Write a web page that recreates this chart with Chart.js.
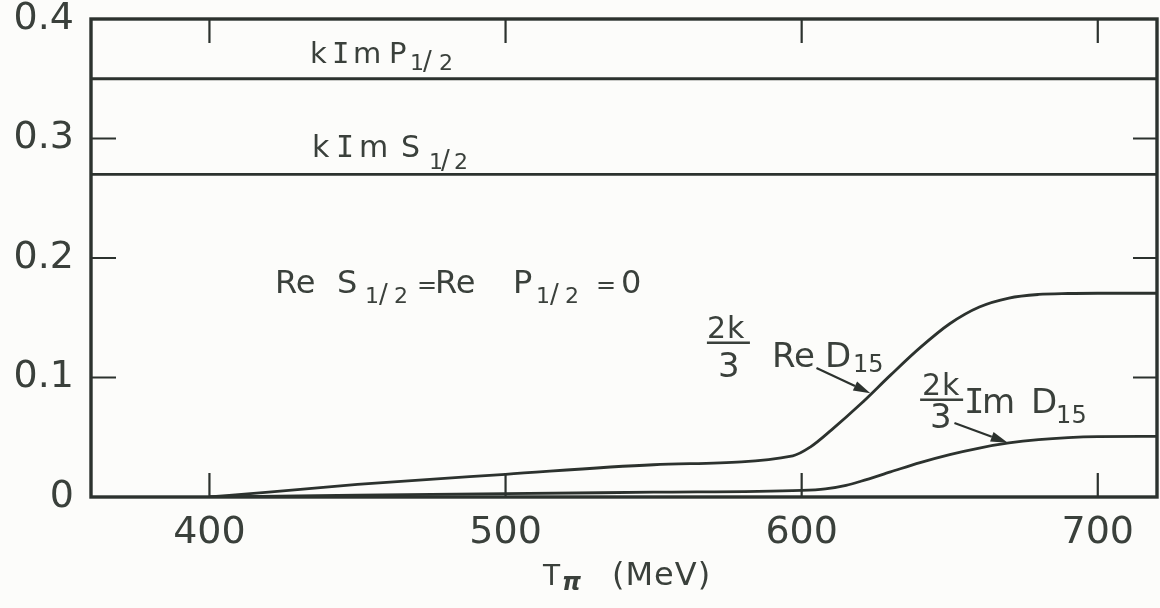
<!DOCTYPE html>
<html>
<head>
<meta charset="utf-8">
<script src="https://cdn.jsdelivr.net/npm/chart.js@4.4.1/dist/chart.umd.min.js"></script>
<style>
  html, body { margin: 0; padding: 0; background: #fcfcfa; }
  #wrap { width: 1160px; height: 608px; position: relative; }
</style>
</head>
<body>
<div id="wrap"><canvas id="c" width="1160" height="608"></canvas></div>
<script>
// Pion kinetic energy axis (MeV) and amplitude axis
const energyTicks = [400, 500, 600, 700];
const valueTicks = [0, 0.1, 0.2, 0.3, 0.4];
const energyRange = [360, 720];

// Constant imaginary parts of the S and P waves
const kImP12 = 0.35;
const kImS12 = 0.27;

// (2k/3) Re D15
const reD15T = [400, 420, 450, 500, 550, 597, 603, 610, 620, 630, 640, 650, 660, 670, 680, 690, 700, 720];
const reD15  = [0, 0.004, 0.0105, 0.019, 0.027, 0.0345, 0.042, 0.056, 0.078, 0.102, 0.125, 0.145, 0.159, 0.1665, 0.1695, 0.1703, 0.1705, 0.1705];

// (2k/3) Im D15
const imD15T = [400, 450, 500, 550, 600, 608, 615, 620, 630, 640, 650, 660, 670, 680, 690, 700, 720];
const imD15  = [0, 0.0015, 0.0028, 0.004, 0.0055, 0.0068, 0.0098, 0.0132, 0.021, 0.0288, 0.0355, 0.041, 0.0452, 0.048, 0.0497, 0.0505, 0.0507];

const INK = '#2c322e';
const TEXT = '#3a403b';
const FONT = '"DejaVu Sans", sans-serif';
const MONO = '"DejaVu Sans Mono", monospace';

const pts = (xs, ys) => xs.map((x, i) => ({ x, y: ys[i] }));
const flat = (v) => [{ x: energyRange[0], y: v }, { x: energyRange[1], y: v }];

const lineStyle = {
  borderColor: INK,
  borderWidth: 2.8,
  pointRadius: 0,
  fill: false,
  cubicInterpolationMode: 'monotone'
};

// Text blocks: anchor in data units, glyph runs offset in px from the anchor
const textBlocks = [
  { x: 434.0, y: 0.3630, runs: [
    { t: 'k', dx: 0, s: 29 }, { t: 'I', dx: 22, s: 29, f: MONO }, { t: 'm', dx: 43, s: 29 },
    { t: 'P', dx: 79, s: 29 },
    { t: '1', dx: 100, s: 22, dy: 7 }, { t: '/', dx: 113, s: 26, dy: 7 }, { t: '2', dx: 129, s: 22, dy: 7 }
  ]},
  { x: 434.6, y: 0.2843, runs: [
    { t: 'k', dx: 0, s: 30 }, { t: 'I', dx: 24, s: 30, f: MONO }, { t: 'm', dx: 47, s: 30 },
    { t: 'S', dx: 89, s: 30 },
    { t: '1', dx: 117, s: 22, dy: 12 }, { t: '/', dx: 129, s: 26, dy: 12 }, { t: '2', dx: 142, s: 22, dy: 12 }
  ]},
  { x: 422.1, y: 0.1711, runs: [
    { t: 'Re', dx: 0, s: 32 }, { t: 'S', dx: 62, s: 32 },
    { t: '1', dx: 90, s: 22, dy: 10 }, { t: '/', dx: 104, s: 26, dy: 10 }, { t: '2', dx: 119, s: 22, dy: 10 },
    { t: '=', dx: 142, s: 24 },
    { t: 'Re', dx: 160, s: 32 }, { t: 'P', dx: 238, s: 32 },
    { t: '1', dx: 261, s: 22, dy: 10 }, { t: '/', dx: 275, s: 26, dy: 10 }, { t: '2', dx: 290, s: 22, dy: 10 },
    { t: '=', dx: 321, s: 24 }, { t: '0', dx: 346, s: 32 }
  ]},
  { x: 568.0, y: 0.1291, bar: 43, runs: [
    { t: '2', dx: 0, s: 30, dy: -5 }, { t: 'k', dx: 20, s: 30, dy: -5 },
    { t: '3', dx: 11, s: 34, dy: 34 },
    { t: 'Re', dx: 65, s: 34, dy: 24 }, { t: 'D', dx: 118, s: 34, dy: 24 },
    { t: '15', dx: 146, s: 24, dy: 29 }
  ]},
  { x: 640.0, y: 0.0813, bar: 43, runs: [
    { t: '2', dx: 2, s: 30, dy: -5 }, { t: 'k', dx: 22, s: 30, dy: -5 },
    { t: '3', dx: 10, s: 34, dy: 28 },
    { t: 'I', dx: 44, s: 34, dy: 13, f: MONO }, { t: 'm', dx: 62, s: 34, dy: 13 },
    { t: 'D', dx: 111, s: 34, dy: 13 },
    { t: '15', dx: 136, s: 24, dy: 23 }
  ]}
];

// Leader arrows, data units: [fromT, fromY, toT, toY]
const arrows = [
  [605.0, 0.108, 623.2, 0.0868],
  [651.6, 0.062, 669.6, 0.0455]
];

const framePlugin = {
  id: 'frame',
  afterDatasetsDraw(chart) {
    const { ctx, chartArea: a, scales: { x, y } } = chart;
    ctx.save();
    ctx.strokeStyle = INK;
    ctx.lineWidth = 3.4;
    ctx.strokeRect(a.left, a.top, a.right - a.left, a.bottom - a.top);
    ctx.lineWidth = 2.2;
    ctx.beginPath();
    energyTicks.filter(v => v > x.min && v < x.max).forEach(v => {
      const px = x.getPixelForValue(v);
      ctx.moveTo(px, a.bottom); ctx.lineTo(px, a.bottom - 24);
      ctx.moveTo(px, a.top); ctx.lineTo(px, a.top + 24);
    });
    valueTicks.filter(v => v > y.min && v < y.max).forEach(v => {
      const py = y.getPixelForValue(v);
      ctx.moveTo(a.left, py); ctx.lineTo(a.left + 25, py);
      ctx.moveTo(a.right, py); ctx.lineTo(a.right - 24, py);
    });
    ctx.stroke();
    ctx.restore();
  },
  afterDraw(chart) {
    const { ctx, chartArea: a, scales: { x, y } } = chart;
    ctx.save();
    ctx.fillStyle = TEXT;
    ctx.strokeStyle = TEXT;
    ctx.textBaseline = 'alphabetic';
    ctx.textAlign = 'left';
    textBlocks.forEach(b => {
      const ax = x.getPixelForValue(b.x);
      const ay = y.getPixelForValue(b.y);
      b.runs.forEach(r => {
        ctx.font = `normal ${r.s}px ${r.f || FONT}`;
        ctx.fillText(r.t, ax + r.dx, ay + (r.dy || 0));
      });
      if (b.bar) {
        ctx.lineWidth = 2.5;
        ctx.beginPath();
        ctx.moveTo(ax, ay); ctx.lineTo(ax + b.bar, ay);
        ctx.stroke();
      }
    });
    // arrows
    ctx.strokeStyle = INK;
    ctx.fillStyle = INK;
    arrows.forEach(([t0, v0, t1, v1]) => {
      const x0 = x.getPixelForValue(t0), y0 = y.getPixelForValue(v0);
      const x1 = x.getPixelForValue(t1), y1 = y.getPixelForValue(v1);
      const ang = Math.atan2(y1 - y0, x1 - x0);
      const L = 17, W = 5;
      const bx = x1 - L * Math.cos(ang), by = y1 - L * Math.sin(ang);
      ctx.lineWidth = 2.2;
      ctx.beginPath(); ctx.moveTo(x0, y0); ctx.lineTo(bx, by); ctx.stroke();
      ctx.beginPath();
      ctx.moveTo(x1, y1);
      ctx.lineTo(bx + W * Math.sin(ang), by - W * Math.cos(ang));
      ctx.lineTo(bx - W * Math.sin(ang), by + W * Math.cos(ang));
      ctx.closePath(); ctx.fill();
    });
    // axis title: T_pi (MeV)
    const cx = (a.left + a.right) / 2 + 6;
    const base = 585;
    ctx.fillStyle = TEXT;
    ctx.font = `normal 28px ${FONT}`;
    ctx.fillText('T', cx - 87, base);
    ctx.font = `italic bold 24px ${FONT}`;
    ctx.fillText('\u03C0', cx - 68, base + 5);
    ctx.font = `normal 32px ${FONT}`;
    ctx.letterSpacing = '1px';
    ctx.fillText('(MeV)', cx - 18, base);
    ctx.letterSpacing = '0px';
    ctx.restore();
  }
};

new Chart(document.getElementById('c'), {
  type: 'line',
  data: {
    datasets: [
      { ...lineStyle, data: flat(kImP12), cubicInterpolationMode: 'default', tension: 0 },
      { ...lineStyle, data: flat(kImS12), cubicInterpolationMode: 'default', tension: 0 },
      { ...lineStyle, data: pts(reD15T, reD15) },
      { ...lineStyle, data: pts(imD15T, imD15) }
    ]
  },
  options: {
    responsive: false,
    devicePixelRatio: 1,
    animation: false,
    layout: { padding: { top: 2, right: 3, left: 0, bottom: 0 } },
    plugins: { legend: { display: false }, tooltip: { enabled: false } },
    scales: {
      x: {
        type: 'linear',
        min: energyRange[0],
        max: energyRange[1],
        afterBuildTicks: s => { s.ticks = energyTicks.map(v => ({ value: v })); },
        afterFit: s => { s.height = 111; },
        grid: { display: false },
        border: { display: false },
        ticks: {
          color: TEXT,
          font: { family: FONT, size: 38 },
          padding: 5,
          maxRotation: 0,
          autoSkip: false,
          callback: v => String(v)
        }
      },
      y: {
        type: 'linear',
        min: valueTicks[0],
        max: valueTicks[valueTicks.length - 1],
        afterBuildTicks: s => { s.ticks = valueTicks.map(v => ({ value: v })); },
        afterFit: s => { s.width = 91; s.paddingTop = 19; },
        grid: { display: false },
        border: { display: false },
        ticks: {
          color: TEXT,
          font: { family: FONT, size: 38, lineHeight: 0.6 },
          padding: 9,
          autoSkip: false,
          callback: v => (v === 0 ? '0' : v.toFixed(1))
        }
      }
    }
  },
  plugins: [framePlugin]
});
</script>
</body>
</html>
